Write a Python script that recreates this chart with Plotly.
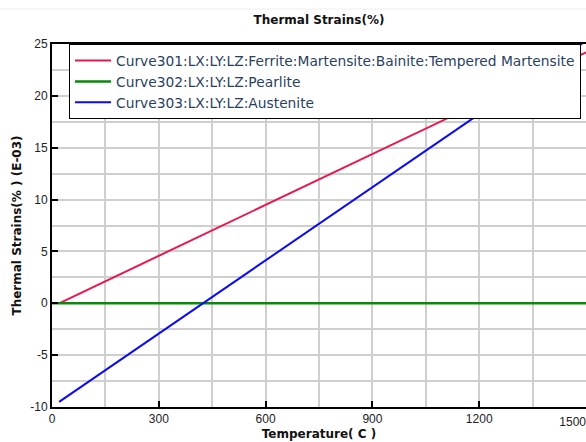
import plotly.graph_objects as go

# ---- data ----
red_name = "Curve301:LX:LY:LZ:Ferrite:Martensite:Bainite:Tempered Martensite"
green_name = "Curve302:LX:LY:LZ:Pearlite"
blue_name = "Curve303:LX:LY:LZ:Austenite"

red_temp = [20, 1500]
red_strain = [0.0, 24.2]

green_temp = [0, 1500]
green_strain = [0.0, 0.0]

blue_temp = [20, 1500]
blue_strain = [-9.5, 25.3]

x_tickvals = [0, 300, 600, 900, 1200, 1500]
x_ticktext = ["0", "300", "600", "900", "1200", ""]
x_last_tickval = [1500]
x_last_ticktext = ["1500"]
y_tickvals = [-10, -5, 0, 5, 10, 15, 20, 25]
y_ticktext = ["-10", "-5", "0", "5", "10", "15", "20", "25"]

RED = "#e8174e"
GREEN = "#0a8a0a"
BLUE = "#0a0af5"

fig = go.Figure()
fig.add_trace(go.Scatter(x=red_temp, y=red_strain, mode="lines", name=red_name,
                         line=dict(color=RED, width=2)))
fig.add_trace(go.Scatter(x=green_temp, y=green_strain, mode="lines", name=green_name,
                         line=dict(color=GREEN, width=2.5)))
fig.add_trace(go.Scatter(x=blue_temp, y=blue_strain, mode="lines", name=blue_name,
                         line=dict(color=BLUE, width=2)))
# helper trace so the secondary x axis (used only for the last tick label) renders
fig.add_trace(go.Scatter(x=green_temp, y=green_strain, mode="lines", xaxis="x2",
                         line=dict(color="rgba(0,0,0,0)", width=0),
                         showlegend=False, hoverinfo="skip"))

axis_font = dict(family="Liberation Sans, Arial", size=12, color="#222222")
title_font = dict(family="DejaVu Sans", size=12, color="#111111")

fig.update_layout(
    width=586, height=442,
    margin=dict(l=52, r=0, t=44, b=35, autoexpand=False),
    paper_bgcolor="white", plot_bgcolor="white",
    title=dict(text="<b>Thermal Strains(%)</b>", x=(52 + 267) / 586, xanchor="center",
               y=1 - 20 / 442, yanchor="middle", font=title_font),
    showlegend=True,
    legend=dict(x=(69 - 52) / 534, y=1, xanchor="left", yanchor="top",
                bgcolor="white", bordercolor="black", borderwidth=1,
                font=dict(family="DejaVu Sans", size=13.8),
                itemwidth=36, tracegroupgap=0),
    xaxis=dict(range=[0, 1500], tickvals=x_tickvals, ticktext=x_ticktext,
               ticks="inside", ticklen=6, tickwidth=1.5, tickcolor="black",
               showline=True, linecolor="black", linewidth=2, mirror=True,
               showgrid=True, gridcolor="#cfcfcf", gridwidth=1.5,
               minor=dict(dtick=150, showgrid=True, gridcolor="#cfcfcf", gridwidth=1.5),
               tickfont=axis_font, zeroline=False, automargin=False,
               title=dict(text="<b>Temperature( C )</b>", font=title_font, standoff=4)),
    xaxis2=dict(range=[0, 1500], overlaying="x", side="bottom", anchor="y",
                tickvals=x_last_tickval, ticktext=x_last_ticktext,
                ticklabelposition="outside left", ticklabeloverflow="allow",
                ticklabelstandoff=6,
                ticks="", showgrid=False, showticklabels=True,
                showline=False, zeroline=False, tickfont=axis_font, automargin=False),
    yaxis=dict(range=[-10, 25], tickvals=y_tickvals, ticktext=y_ticktext,
               ticks="inside", ticklen=6, tickwidth=1.5, tickcolor="black",
               showline=True, linecolor="black", linewidth=2, mirror=True,
               showgrid=True, gridcolor="#cfcfcf", gridwidth=1.5,
               minor=dict(dtick=2.5, showgrid=True, gridcolor="#cfcfcf", gridwidth=1.5),
               tickfont=axis_font, zeroline=False, automargin=False,
               title=dict(text="<b>Thermal Strains(% ) (E-03)</b>", font=title_font, standoff=6)),
    shapes=[dict(type="line", xref="paper", yref="paper", x0=-52 / 534, x1=1,
                 y0=1 + (44 - 9) / 363, y1=1 + (44 - 9) / 363,
                 line=dict(color="#eeeeee", width=1))],
)

fig.write_html("out.html")
